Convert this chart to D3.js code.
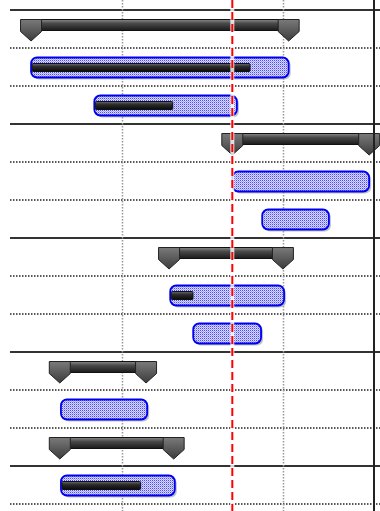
<!DOCTYPE html>
<html>
<head>
<meta charset="utf-8">
<script src="https://cdn.jsdelivr.net/npm/d3@7"></script>
<style>
  body { margin: 0; background: #fff; }
  svg { display: block; }
</style>
</head>
<body>
<div id="chart"></div>
<script>
/* DATA - days counted from the first weekly grid line */
const rowTypes  = ["summary", "task", "task", "summary", "task", "task", "summary", "task", "task", "summary", "task", "summary", "task"];
const rowStarts = [-3.95, -3.95, -1.2, 4.8, 4.8, 6.1, 2.05, 2.1, 3.1, -2.7, -2.65, -2.7, -2.65];
const rowEnds   = [7.25, 7.25, 5.0, 10.75, 10.75, 9.0, 7.0, 7.05, 6.05, 1.05, 1.1, 2.25, 2.3];
const rowProgress = [0, 0.85, 0.55, 0, 0, 0, 0, 0.2, 0, 0, 0, 0, 0.7]; // share done
const groupRows = [0, 3, 6, 9, 12]; // rows that open a group (solid line above)
const weekTicks = [0, 7];
const today = 4.8;

/* CONSTANTS AND GLOBALS */
const width = 380, height = 511;
const rowHeight = 38;
const topY = 10;
const rows = d3.range(rowTypes.length);

const svg = d3.select("#chart").append("svg")
  .attr("width", width)
  .attr("height", height);

const x = d3.scaleLinear()
  .domain([-5.3, 10.96])
  .range([0, 374]);

const y = d3.scaleBand()
  .domain(rows)
  .range([topY, topY + rows.length * rowHeight]);

// gradients and the dotted blue fill
const defs = svg.append("defs");
function grad(id, stops) {
  const g = defs.append("linearGradient").attr("id", id)
    .attr("x1", 0).attr("y1", 0).attr("x2", 0).attr("y2", 1);
  stops.forEach(s => g.append("stop").attr("offset", s[0]).attr("stop-color", s[1]));
}
grad("sumBar", [[0, "#8a8a8a"], [0.35, "#4a4a4a"], [1, "#1a1a1a"]]);
grad("sumCap", [[0, "#7a7a7a"], [1, "#3c3c3c"]]);
grad("prog", [[0, "#6a6a6a"], [0.4, "#2a2a2a"], [1, "#0a0a0a"]]);

const pat = defs.append("pattern").attr("id", "dots")
  .attr("width", 2).attr("height", 2).attr("patternUnits", "userSpaceOnUse");
pat.append("rect").attr("width", 2).attr("height", 2).attr("fill", "#dcdcff");
pat.append("rect").attr("width", 1).attr("height", 1).attr("fill", "#4848ff");
pat.append("rect").attr("x", 1).attr("y", 1).attr("width", 1).attr("height", 1).attr("fill", "#a0a0ff");

/* GRID */
const lines = d3.range(rows.length + 1);
svg.append("g").selectAll("line")
  .data(lines)
  .join("line")
  .attr("x1", 10).attr("x2", width)
  .attr("y1", d => topY + d * rowHeight).attr("y2", d => topY + d * rowHeight)
  .attr("stroke", d => groupRows.includes(d) ? "#333" : "#222")
  .attr("stroke-width", d => groupRows.includes(d) ? 2 : 1.5)
  .attr("stroke-dasharray", d => groupRows.includes(d) ? null : "1.5,1.5");

svg.append("g").selectAll("line")
  .data(weekTicks)
  .join("line")
  .attr("x1", d => Math.round(x(d)) + 0.5).attr("x2", d => Math.round(x(d)) + 0.5)
  .attr("y1", 0).attr("y2", height)
  .attr("stroke", "#999")
  .attr("stroke-width", 1.5)
  .attr("stroke-dasharray", "1.5,1.5");

/* TASK BARS */
const tasks = rows.filter(i => rowTypes[i] === "task");
const taskG = svg.append("g");

taskG.selectAll("rect.shadow")
  .data(tasks)
  .join("rect")
  .attr("class", "shadow")
  .attr("x", i => x(rowStarts[i]) + 2)
  .attr("y", i => y(i) + 11.5)
  .attr("width", i => x(rowEnds[i]) - x(rowStarts[i]))
  .attr("height", 20)
  .attr("rx", 6)
  .attr("fill", "#999")
  .attr("opacity", 0.6);

taskG.selectAll("rect.bar")
  .data(tasks)
  .join("rect")
  .attr("class", "bar")
  .attr("x", i => x(rowStarts[i]))
  .attr("y", i => y(i) + 9.5)
  .attr("width", i => x(rowEnds[i]) - x(rowStarts[i]))
  .attr("height", 20)
  .attr("rx", 6)
  .attr("fill", "url(#dots)")
  .attr("stroke", "#0000f0")
  .attr("stroke-width", 1.8);

taskG.selectAll("rect.prog")
  .data(tasks.filter(i => rowProgress[i] > 0))
  .join("rect")
  .attr("class", "prog")
  .attr("x", i => x(rowStarts[i]) + 1)
  .attr("y", i => y(i) + 15.5)
  .attr("width", i => (x(rowEnds[i]) - x(rowStarts[i])) * rowProgress[i] - 1)
  .attr("height", 8)
  .attr("rx", 1)
  .attr("fill", "url(#prog)")
  .attr("stroke", "#111")
  .attr("stroke-width", 1);

/* SUMMARY BARS */
const sums = rows.filter(i => rowTypes[i] === "summary");
const sumG = svg.append("g");

sumG.selectAll("rect")
  .data(sums)
  .join("rect")
  .attr("x", i => x(rowStarts[i]))
  .attr("y", i => y(i) + 9.5)
  .attr("width", i => x(rowEnds[i]) - x(rowStarts[i]))
  .attr("height", 11)
  .attr("fill", "url(#sumBar)")
  .attr("stroke", "#111")
  .attr("stroke-width", 1);

// the two pointed caps of each summary
const caps = sums.flatMap(i => [[i, rowStarts[i]], [i, rowEnds[i]]]);
sumG.selectAll("path")
  .data(caps)
  .join("path")
  .attr("d", d => {
    const cx = x(d[1]), t = y(d[0]) + 9.5;
    return `M${cx - 10.5},${t} H${cx + 10.5} V${t + 12} L${cx},${t + 21.5} L${cx - 10.5},${t + 12} Z`;
  })
  .attr("fill", "url(#sumCap)")
  .attr("stroke", "#222")
  .attr("stroke-width", 1);

/* TODAY LINE AND RIGHT EDGE */
svg.append("line")
  .attr("x1", x(today)).attr("x2", x(today))
  .attr("y1", 0).attr("y2", height)
  .attr("stroke", "#fff").attr("stroke-width", 4).attr("opacity", 0.8);
svg.append("line")
  .attr("x1", x(today)).attr("x2", x(today))
  .attr("y1", 0).attr("y2", height)
  .attr("stroke", "#f00").attr("stroke-width", 2)
  .attr("stroke-dasharray", "8,4");

svg.append("line")
  .attr("x1", x.range()[1]).attr("x2", x.range()[1])
  .attr("y1", 0).attr("y2", height)
  .attr("stroke", "#222").attr("stroke-width", 2);
</script>
</body>
</html>
